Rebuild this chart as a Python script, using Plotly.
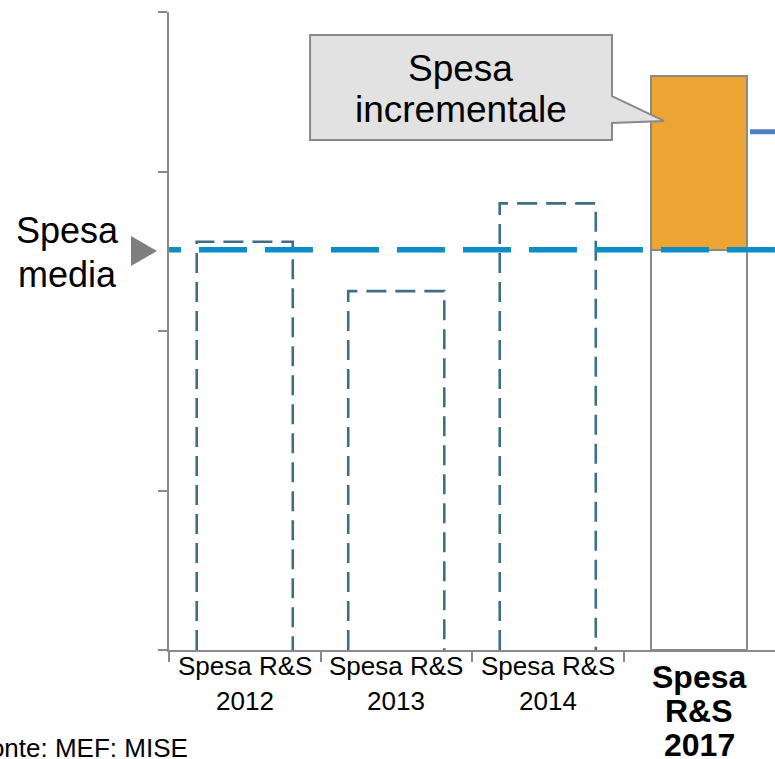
import plotly.graph_objects as go

# ---------------- data ----------------
categories = ["Spesa R&S 2012", "Spesa R&S 2013", "Spesa R&S 2014", "Spesa R&S 2017"]
tick_lines = [["Spesa R&S", "2012"], ["Spesa R&S", "2013"], ["Spesa R&S", "2014"], ["Spesa", "R&S", "2017"]]
past_spend = [2.56, 2.25, 2.80]      # 2012, 2013, 2014 (unità arbitrarie)
spend_2017 = 3.60
avg_spend = 2.51
side_level = 3.25
y_ticks = [0, 1, 2, 3, 4]

# ---------------- style ----------------
GRAY = "#898989"
DASH_BAR = "#3F6E84"
BLUE = "#0B8DC7"
ORANGE = "#ECA532"
BAR_W = 0.634
FONT = "Liberation Sans, Arial, sans-serif"

fig = go.Figure()

# dashed outline bars 2012-2014
for i, v in enumerate(past_spend):
    x0, x1 = i - BAR_W / 2, i + BAR_W / 2
    fig.add_trace(go.Scatter(
        x=[x0, x0, x1, x1], y=[0, v, v, 0], mode="lines",
        line=dict(color=DASH_BAR, width=2.6, dash="20px,9px"),
        hoverinfo="skip", showlegend=False))

# 2017 bar: base up to average (white) + incremental part (orange)
fig.add_trace(go.Bar(x=[3], y=[avg_spend], base=0, width=BAR_W,
                     marker=dict(color="white", line=dict(color=GRAY, width=2)),
                     showlegend=False, hoverinfo="skip"))
fig.add_trace(go.Bar(x=[3], y=[spend_2017 - avg_spend], base=avg_spend, width=BAR_W,
                     marker=dict(color=ORANGE, line=dict(color=GRAY, width=2)),
                     showlegend=False, hoverinfo="skip"))

# average spending dashed line
fig.add_trace(go.Scatter(x=[-0.738, 3.6], y=[avg_spend, avg_spend], mode="lines",
                         line=dict(color=BLUE, width=5.5, dash="48px,18px"),
                         hoverinfo="skip", showlegend=False))
# partially visible line at right edge
fig.add_trace(go.Scatter(x=[3.335, 3.6], y=[side_level, side_level], mode="lines",
                         line=dict(color="#4F81BD", width=5),
                         hoverinfo="skip", showlegend=False))

# callout "Spesa incrementale"
fig.add_shape(type="path", xref="x", yref="y",
              path="M 0.431,3.856 L 2.424,3.856 L 2.424,3.473 L 2.767,3.317 "
                   "L 2.424,3.304 L 2.424,3.197 L 0.431,3.197 Z",
              fillcolor="#E2E2E2", line=dict(color=GRAY, width=2), layer="above")

# triangle pointer for "Spesa media"
fig.add_shape(type="path", xref="paper", yref="paper",
              path="M -0.0627,0.6489 L -0.0627,0.6019 L -0.0198,0.6254 Z",
              fillcolor="#7F7F7F", line=dict(width=0))

ann = []
def txt(x, y, s, size, xref="x", yref="y", bold=False, xanchor="center", yshift=0):
    ann.append(dict(x=x, y=y, xref=xref, yref=yref, text=("<b>%s</b>" % s) if bold else s,
                    showarrow=False, xanchor=xanchor, yanchor="middle", yshift=yshift,
                    font=dict(family=FONT, size=size, color="black")))

txt(1.427, 3.645, "Spesa", 37)
txt(1.427, 3.39, "incrementale", 37)
txt(-0.168, 0.657, "Spesa", 36, xref="paper", yref="paper")
txt(-0.168, 0.588, "media", 36, xref="paper", yref="paper")

# category labels
for i, lines in enumerate(tick_lines):
    bold = (i == 3)
    pitch = 34 if bold else 35
    first = 27 if bold else 16
    for j, line in enumerate(lines):
        txt(i, 0, line, 32 if bold else 26, xref="x", yref="paper", bold=bold,
            yshift=-(first + j * pitch))

txt(0.0347, -0.154, "Fonte: MEF: MISE", 26, xref="paper", yref="paper", xanchor="right")

fig.update_layout(
    width=775, height=759,
    margin=dict(l=169, r=0, t=12, b=109),
    paper_bgcolor="white", plot_bgcolor="white",
    barmode="overlay", bargap=0,
    annotations=ann,
    xaxis=dict(range=[-0.5, 3.5], showgrid=False, zeroline=False, showline=True,
               linecolor=GRAY, linewidth=2, tickvals=[-0.5, 0.5, 1.5, 2.5],
               ticks="outside", ticklen=10, tickcolor=GRAY, tickwidth=1.5,
               showticklabels=False, fixedrange=True),
    yaxis=dict(range=[0, 4], showgrid=False, zeroline=False, showline=True,
               linecolor=GRAY, linewidth=2, tickvals=y_ticks, ticks="outside",
               ticklen=9, tickcolor=GRAY, tickwidth=2, showticklabels=False,
               fixedrange=True),
)

fig.write_html("out.html", config={"displayModeBar": False},
               post_script="document.body.style.margin='0';document.body.style.overflow='hidden';")
